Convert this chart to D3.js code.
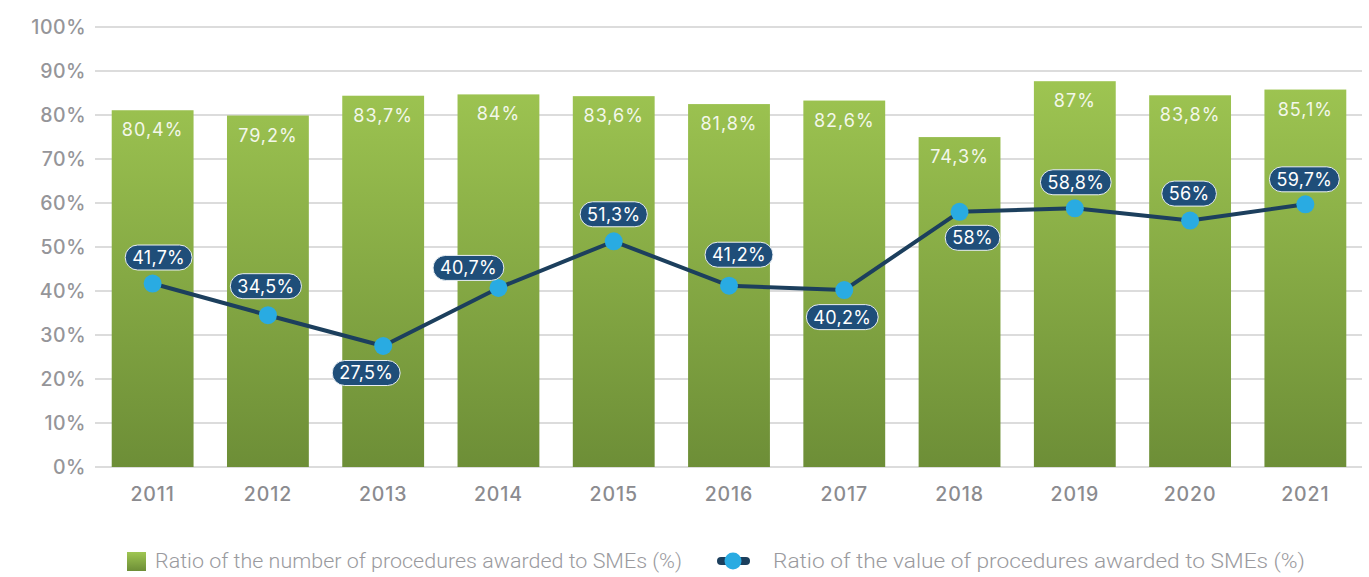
<!DOCTYPE html>
<html><head><meta charset="utf-8">
<script src="https://cdn.jsdelivr.net/npm/d3@7"></script>
<style>body{margin:0;background:#fff}svg{display:block}</style>
</head><body>
<svg id="c" width="1369" height="577"></svg>
<script>
const years = ["2011","2012","2013","2014","2015","2016","2017","2018","2019","2020","2021"];
const numberRatio = [80.4,79.2,83.7,84,83.6,81.8,82.6,74.3,87,83.8,85.1];
const valueRatio = [41.7,34.5,27.5,40.7,51.3,41.2,40.2,58,58.8,56,59.7];
const yTicks = [0,10,20,30,40,50,60,70,80,90,100];
const legendLabels = ["Ratio of the number of procedures awarded to SMEs (%)","Ratio of the value of procedures awarded to SMEs (%)"];
// label placement for line labels (layout only)
const lblPlace = [[6,-26],[-2,-29],[-17,27],[-30,-20],[0,-27],[10,-31],[-2,27],[13,26],[1,-26],[-1,-27],[-1,-25]];

const fmt = v => String(v).replace(".", ",") + "%";
const svg = d3.select("#c");
const x = d3.scaleBand().domain(years).range([95,1363]).paddingInner(0.29).paddingOuter(0.145);
const y = d3.scaleLinear().domain([0,100]).range([467,27]);
const FONT = "Inter, 'DejaVu Sans', sans-serif";

const defs = svg.append("defs");
const g = defs.append("linearGradient").attr("id","bg").attr("gradientUnits","userSpaceOnUse")
  .attr("x1",0).attr("x2",0).attr("y1", y(90)).attr("y2", y(0));
g.append("stop").attr("offset","0%").attr("stop-color","#9fc652");
g.append("stop").attr("offset","100%").attr("stop-color","#6d8e37");
const lg = defs.append("linearGradient").attr("id","lg").attr("x1",0).attr("y1",0).attr("x2",0).attr("y2",1);
lg.append("stop").attr("offset","0%").attr("stop-color","#9fc652");
lg.append("stop").attr("offset","100%").attr("stop-color","#6d8e37");

// grid
svg.append("g").selectAll("line").data(yTicks).join("line")
  .attr("x1",95).attr("x2",1362).attr("y1",d=>y(d)).attr("y2",d=>y(d))
  .attr("stroke","#dcdcdc").attr("stroke-width",2);

// y axis labels
const yAxis = d3.axisLeft(y).tickValues(yTicks).tickFormat(d=>d+"%").tickSize(0).tickPadding(0);
const ya = svg.append("g").attr("transform","translate(86,0)").call(yAxis);
ya.select(".domain").remove();
ya.selectAll("text").attr("font-family",FONT).attr("font-size",19.5).attr("font-weight",500).attr("fill","#959599").attr("letter-spacing",0.5);

// x axis labels
const xAxis = d3.axisBottom(x).tickSize(0).tickPadding(0);
const xa = svg.append("g").attr("transform","translate(0,487)").call(xAxis);
xa.select(".domain").remove();
xa.selectAll("text").attr("font-family",FONT).attr("font-size",19.5).attr("font-weight",500).attr("fill","#8b8b8f").attr("letter-spacing",0.9);

// bars
svg.append("g").selectAll("rect").data(numberRatio).join("rect")
  .attr("x",(d,i)=>x(years[i])).attr("width",x.bandwidth())
  .attr("y",d=>y(d)-3).attr("height",d=>y(0)-y(d)+3)
  .attr("fill","url(#bg)");
svg.append("g").selectAll("text").data(numberRatio).join("text")
  .attr("x",(d,i)=>x(years[i])+x.bandwidth()/2).attr("y",d=>y(d)+23)
  .attr("text-anchor","middle").attr("font-family",FONT)
  .attr("font-size",18).attr("fill","#f3f7ea").attr("letter-spacing",1).text(fmt);

// line
const cx = i => x(years[i]) + x.bandwidth()/2;
const line = d3.line().x((d,i)=>cx(i)).y(d=>y(d));
svg.append("path").datum(valueRatio).attr("d",line).attr("fill","none")
  .attr("stroke","#1c3f5d").attr("stroke-width",4).attr("stroke-linejoin","round");
svg.append("g").selectAll("circle").data(valueRatio).join("circle")
  .attr("cx",(d,i)=>cx(i)).attr("cy",d=>y(d)).attr("r",9).attr("fill","#29abe2");

// line labels
const lbl = svg.append("g").selectAll("g").data(valueRatio).join("g")
  .attr("transform",(d,i)=>`translate(${cx(i)+lblPlace[i][0]},${y(d)+lblPlace[i][1]})`);
lbl.append("text").attr("text-anchor","middle").attr("dy","0.36em")
  .attr("font-family",FONT).attr("font-size",18).attr("fill","#ffffff")
  .attr("letter-spacing",0.3).text(fmt);
lbl.each(function(){
  const gg = d3.select(this);
  const bb = gg.select("text").node().getBBox();
  const w = bb.width + 14, h = 25;
  gg.insert("rect","text").attr("x",-w/2).attr("y",-h/2).attr("width",w).attr("height",h)
    .attr("rx",12.5).attr("fill","#1f4e79").attr("stroke","#e8eef3").attr("stroke-width",1);
});

// legend
svg.append("rect").attr("x",127).attr("y",552).attr("width",19).attr("height",19).attr("fill","url(#lg)");
svg.append("text").attr("x",155).attr("y",568).attr("font-family","Roboto, sans-serif").attr("font-weight",300)
  .attr("font-size",20).attr("fill","#9a9a9e").attr("textLength",527).attr("lengthAdjust","spacingAndGlyphs").text(legendLabels[0]);
svg.append("line").attr("x1",721).attr("x2",746).attr("y1",561).attr("y2",561).attr("stroke","#1c3f5d").attr("stroke-width",8).attr("stroke-linecap","round");
svg.append("circle").attr("cx",733).attr("cy",561).attr("r",8.5).attr("fill","#29abe2");
svg.append("text").attr("x",773).attr("y",568).attr("font-family","Roboto, sans-serif").attr("font-weight",300)
  .attr("font-size",20).attr("fill","#9a9a9e").attr("textLength",532).attr("lengthAdjust","spacingAndGlyphs").text(legendLabels[1]);
</script>
</body></html>
